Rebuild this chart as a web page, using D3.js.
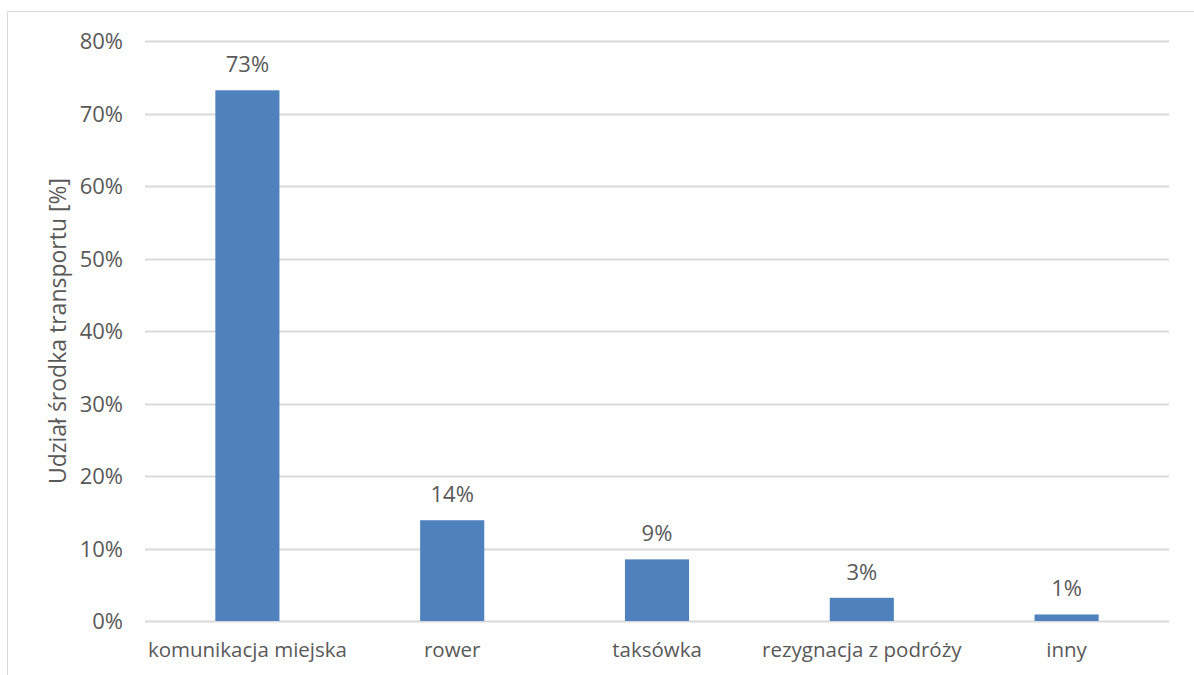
<!DOCTYPE html>
<html lang="pl">
<head>
<meta charset="UTF-8">
<title>Udział środka transportu</title>
<script src="https://d3js.org/d3.v7.min.js"></script>
<style>
  body { margin: 0; background: #fff; }
  svg text { font-family: "Open Sans", "Liberation Sans", sans-serif; fill: #595959; }
</style>
</head>
<body>
<div id="chart"></div>
<script>
// dane
var categories = ["komunikacja miejska", "rower", "taksówka", "rezygnacja z podróży", "inny"];
var shares = [0.732, 0.139, 0.085, 0.032, 0.009];
var yTicks = [0, 0.1, 0.2, 0.3, 0.4, 0.5, 0.6, 0.7, 0.8];

var width = 1194, height = 675;
var margin = { top: 41, right: 25, bottom: 54, left: 145 };

var svg = d3.select("#chart").append("svg")
    .attr("width", width)
    .attr("height", height);

// ramka wykresu (widoczna góra i lewa strona)
svg.append("path")
    .attr("d", "M7.5," + height + "V11.5H" + width)
    .attr("fill", "none")
    .attr("stroke", "#d9d9d9")
    .attr("stroke-width", 1);

var x = d3.scaleBand()
    .domain(categories)
    .range([margin.left, width - margin.right])
    .paddingInner(0.687)
    .paddingOuter(0.3435);

var y = d3.scaleLinear()
    .domain([0, 0.8])
    .range([height - margin.bottom, margin.top]);

// linie siatki
svg.append("g")
    .selectAll("line")
    .data(yTicks)
    .enter().append("line")
    .attr("x1", margin.left)
    .attr("x2", width - margin.right)
    .attr("y1", function(d) { return Math.round(y(d)) + 0.5; })
    .attr("y2", function(d) { return Math.round(y(d)) + 0.5; })
    .attr("stroke", "#d9d9d9")
    .attr("stroke-width", 2);

// oś Y
var yAxis = svg.append("g")
    .attr("transform", "translate(" + (margin.left - 22) + ",0)")
    .call(d3.axisLeft(y).tickValues(yTicks).tickFormat(d3.format(".0%")).tickSize(0).tickPadding(0));
yAxis.select(".domain").remove();
yAxis.selectAll("text").style("font-size", "22px").attr("dy", "0.35em");

// oś X
var xAxis = svg.append("g")
    .attr("transform", "translate(0," + (height - margin.bottom) + ")")
    .call(d3.axisBottom(x).tickSize(0).tickPadding(22));
xAxis.select(".domain").remove();
xAxis.selectAll("text").style("font-size", "20.5px").attr("dy", "0.68em");

// słupki
svg.append("g")
    .selectAll("rect")
    .data(shares)
    .enter().append("rect")
    .attr("x", function(d, i) { return x(categories[i]); })
    .attr("y", function(d) { return y(d); })
    .attr("width", x.bandwidth())
    .attr("height", function(d) { return y(0) - y(d); })
    .attr("fill", "#4f81bd");

// etykiety wartości
svg.append("g")
    .selectAll("text")
    .data(shares)
    .enter().append("text")
    .attr("x", function(d, i) { return x(categories[i]) + x.bandwidth() / 2; })
    .attr("y", function(d) { return y(d) - 18; })
    .attr("text-anchor", "middle")
    .style("font-size", "22px")
    .text(function(d) { return d3.format(".0%")(d); });

// tytuł osi Y
svg.append("text")
    .attr("transform", "translate(66," + ((margin.top + height - margin.bottom) / 2) + ") rotate(-90)")
    .attr("text-anchor", "middle")
    .style("font-size", "23px")
    .text("Udział środka transportu [%]");
</script>
</body>
</html>
